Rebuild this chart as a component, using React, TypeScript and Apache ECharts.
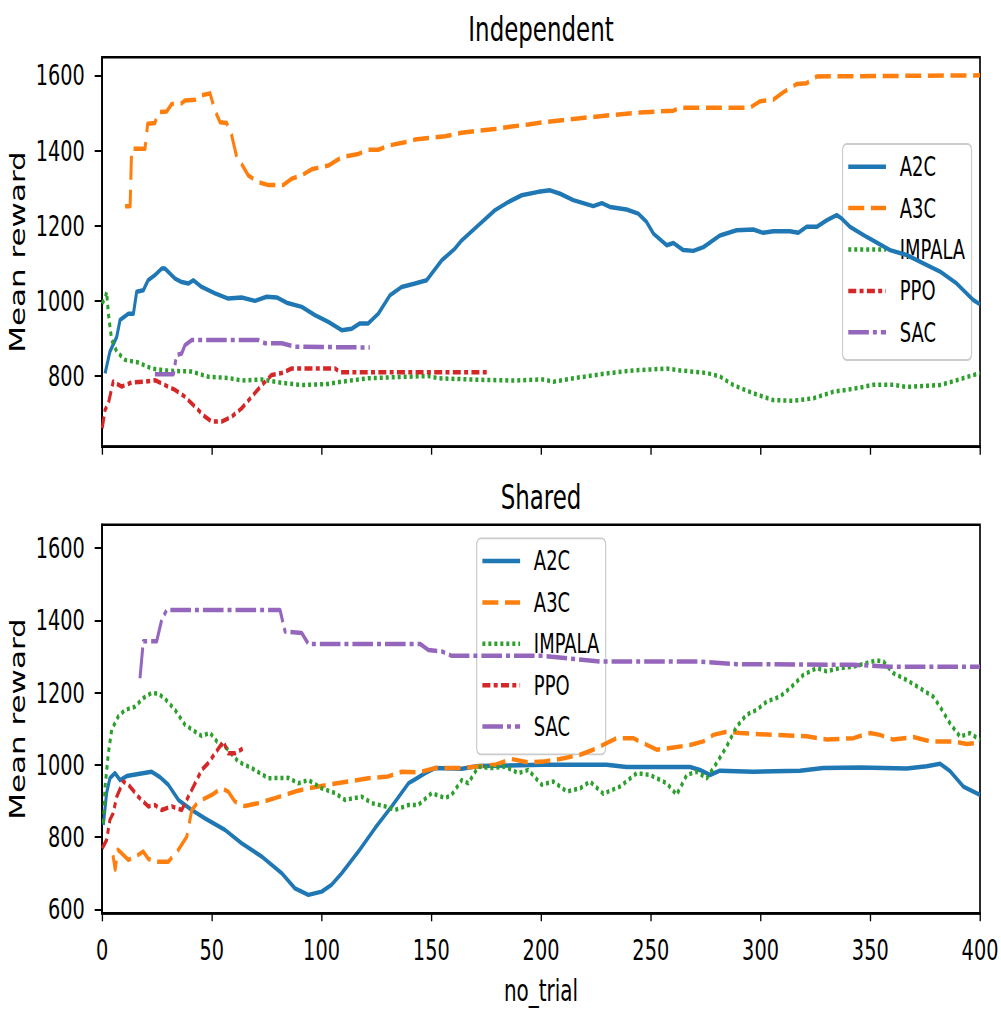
import React, { useEffect, useRef } from 'react';
import * as echarts from 'echarts';

// Horizontal squash of the whole figure (the reference is a horizontally compressed matplotlib figure)
const SX = 0.665;
const W = 1505;
const H = 1010;

const algorithms = ['A2C', 'A3C', 'IMPALA', 'PPO', 'SAC'];
const colors = ['#1f77b4', '#ff7f0e', '#2ca02c', '#d62728', '#9467bd'];
const yTicksTop = [800, 1000, 1200, 1400, 1600];
const yTicksBottom = [600, 800, 1000, 1200, 1400, 1600];

// ---- Independent ----
const indA2C = [[1.4,807],[3.6,865],[6.7,904],[8.2,949],[12,966],[14.3,966],[15.8,1024],[18.8,1028],[21,1055],[24,1068],[27.2,1086],[28.7,1086],[33.3,1059],[36.3,1050],[39.3,1046],[41.6,1055],[45.4,1037],[51.5,1020],[57.5,1006],[63.6,1009],[69.7,1000],[75,1011],[79.6,1009],[84.1,995],[91,984],[97,962],[103.1,944],[109.2,922],[113.8,926],[117.5,940],[121.3,940],[125.9,966],[131.2,1015],[136.5,1037],[142.6,1046],[147.9,1055],[154.8,1108],[160.8,1139],[163.9,1161],[171.4,1201],[179,1241],[185.1,1263],[191.2,1281],[198.8,1290],[204.1,1294],[208.7,1285],[214.7,1268],[223.8,1252],[227.7,1260],[231.4,1250],[239,1243],[244.3,1232],[248.1,1210],[251.2,1179],[257.3,1148],[260.3,1154],[264.8,1135],[269.4,1133],[274,1143],[281.5,1174],[289.1,1188],[296.7,1190],[301.2,1181],[305.8,1185],[313.4,1185],[317.2,1181],[321,1197],[325.6,1197],[330.1,1214],[334.7,1228],[337,1219],[340.8,1197],[348.4,1170],[359,1135],[366.6,1122],[374.2,1100],[381.8,1078],[389.4,1046],[397,1002],[400,991]];
const indA3C = [[10.5,1252],[12.8,1252],[13.5,1405],[19.6,1405],[20.8,1471],[24.1,1473],[25.6,1502],[29.5,1504],[31.8,1524],[36.3,1526],[37.8,1533],[42.4,1535],[44.6,1546],[49.2,1552],[51.5,1506],[53.8,1475],[56.8,1473],[59.1,1440],[61.4,1382],[63.6,1364],[66.6,1334],[71.2,1316],[75.8,1308],[82.6,1308],[86.4,1325],[91,1334],[95.5,1350],[103.1,1360],[109.2,1382],[116.8,1391],[121.3,1402],[125.9,1402],[130.4,1413],[138,1422],[142.6,1429],[148.7,1433],[156.3,1438],[163.9,1447],[171.4,1453],[179,1457],[186.6,1464],[194.2,1469],[201,1475],[214.7,1484],[229.9,1493],[245.1,1501],[260.3,1506],[263.3,1514],[295.2,1514],[299.8,1531],[305.8,1535],[310.4,1555],[316.5,1577],[321,1579],[325.6,1597],[400,1600]];
const indIMPALA = [[0,993],[1.4,1006],[2.1,1024],[2.9,966],[4.4,896],[6.7,865],[10.5,843],[16.5,836],[22.6,820],[30.2,814],[40.8,812],[48.4,798],[57.5,795],[63.6,788],[72.7,791],[81.9,782],[91,776],[103.1,779],[109.2,785],[121.3,794],[133.5,797],[148.7,800],[153.2,794],[171.4,790],[188.2,788],[201,791],[205.6,785],[214.7,794],[229.9,807],[242,815],[257.3,820],[263.3,815],[275.5,808],[281.5,799],[287.6,776],[296.7,754],[305.8,736],[315,734],[324.1,741],[333.2,758],[345.3,769],[351.4,777],[360.5,777],[366.6,771],[381.8,776],[389.4,789],[400,808]];
const indPPO = [[0.1,661],[1.4,710],[2.9,727],[5.1,785],[9,772],[13.5,783],[19.6,785],[24.1,789],[28.7,776],[33.3,763],[37.8,745],[42.4,718],[46.9,692],[50,679],[54.5,679],[59.1,692],[63.6,714],[68.2,745],[72.8,776],[77.3,803],[81.9,808],[86.4,820],[106.2,820],[108.4,810],[176.8,810]];
const indSAC = [[24.1,805],[32.5,805],[34,856],[36.3,860],[37.8,882],[40.9,896],[71.2,896],[74.3,887],[81.9,887],[87.9,878],[122,876]];

// ---- Shared ----
const shA2C = [[0.6,834],[2.1,922],[3.6,963],[5.9,977],[8.2,958],[11.3,969],[16.5,975],[22.6,981],[26.4,966],[30.2,945],[34.8,903],[40.9,875],[46.9,852],[56,820],[63.6,783],[72.8,746],[81.9,700],[87.9,658],[94,640],[100.1,649],[104.6,668],[109.2,700],[116.8,760],[124.4,825],[132,885],[139.6,949],[142.6,960],[147.2,977],[151.7,991],[163.9,989],[171.4,997],[201,1000],[229.9,1000],[239,994],[267.9,994],[272.4,986],[277,972],[281.5,984],[296.7,981],[318,984],[328.6,991],[345.3,993],[366.6,990],[375.7,996],[381.8,1003],[386.3,983],[392.4,940],[400,917]];
const shA3C = [[5,750],[6,710],[7.2,765],[9,755],[12,737],[15,745],[18.8,760],[21.1,740],[24.1,732],[30.2,732],[34.8,765],[38.6,801],[40.9,875],[43.9,898],[50,917],[54.5,935],[57.5,926],[60.6,898],[65.1,886],[71.2,894],[78.8,908],[87.9,926],[94,935],[103.1,945],[112.2,954],[121.3,963],[130.4,968],[136.5,981],[144.1,979],[151.7,991],[163.9,991],[173,997],[179,1000],[186.6,1016],[194.2,1007],[201,1009],[208.7,1016],[217.8,1028],[223.8,1042],[234.5,1074],[242,1074],[246.6,1060],[252.7,1042],[260.3,1048],[267.9,1055],[274,1065],[278.5,1083],[284.6,1092],[290.7,1088],[305.8,1083],[321,1079],[330.1,1070],[342.3,1074],[349.9,1088],[354.4,1083],[360.5,1070],[369.6,1077],[377.2,1065],[387.8,1065],[393.9,1058],[400,1062]];
const shIMPALA = [[0.6,838],[1.4,940],[2.9,1032],[4.4,1097],[7.4,1134],[10.5,1152],[15,1161],[18.8,1185],[22.6,1199],[25.7,1197],[28.7,1183],[33.3,1152],[37.8,1111],[42.4,1092],[45.4,1080],[49.2,1089],[52.3,1065],[56.8,1046],[62.1,1009],[68.2,991],[75.8,963],[84.9,964],[89.4,949],[94,958],[100.1,935],[106.2,922],[110.7,903],[118.3,912],[122.9,894],[129,885],[133.5,875],[139.6,889],[144.1,889],[150.2,922],[156.3,908],[159.3,917],[163.9,958],[166.9,949],[171.4,995],[177.5,991],[183.6,995],[189.7,977],[194.2,986],[200.3,945],[205.6,954],[211.7,926],[217.8,935],[222.3,954],[228.4,920],[236,940],[243.6,977],[249.7,972],[257.3,949],[261.8,917],[266.4,972],[270.9,981],[275.5,963],[280,1005],[284.6,1051],[289.1,1106],[293.7,1139],[298.2,1152],[302.8,1175],[308.8,1189],[313.4,1212],[319.5,1249],[325.6,1268],[330.1,1259],[336.2,1268],[342.3,1272],[348.4,1282],[352.9,1289],[356,1286],[360.5,1254],[366.6,1235],[372.7,1212],[378.7,1189],[381.8,1161],[386.3,1115],[390.9,1078],[395.4,1088],[400,1069]];
const shPPO = [[0.1,769],[2.1,792],[3.6,848],[5.1,866],[6.7,912],[9.7,954],[12,945],[16.5,912],[21.1,885],[24.1,889],[27.2,875],[31.8,885],[36.3,875],[38.6,903],[42.4,949],[45.4,986],[48.4,1005],[51.5,1032],[55.3,1065],[57.5,1032],[60.6,1032],[64.4,1046]];
const shSAC = [[17.3,1240],[18.8,1342],[24.9,1342],[27.2,1402],[29.5,1429],[81.1,1429],[83.4,1369],[91,1365],[94,1335],[144.9,1335],[148.7,1318],[154.8,1314],[159.3,1302],[201,1302],[226.9,1286],[272.4,1286],[287.6,1279],[342.3,1277],[359,1272],[400,1272]];

const independentData = [indA2C, indA3C, indIMPALA, indPPO, indSAC];
const sharedData = [shA2C, shA3C, shIMPALA, shPPO, shSAC];

const dashes: any[] = [null, [24, 10], [4.5, 4.5], [12, 5, 6, 5], [31, 6, 6, 6]];

const FONT = 'DejaVu Sans';
const LW = 4.5;

function legendGraphic(left: number, top: number) {
  const children: any[] = [
    {
      type: 'rect',
      shape: { x: left, y: top, width: 194, height: 216, r: 6 },
      style: { fill: 'rgba(255,255,255,0.8)', stroke: '#cccccc', lineWidth: 1.8 },
    },
  ];
  algorithms.forEach((name, k) => {
    const cy = top + 22.7 + k * 41.4;
    children.push({
      type: 'line',
      shape: { x1: left + 8.6, y1: cy, x2: left + 65.3, y2: cy },
      style: { stroke: colors[k], lineWidth: LW, lineDash: dashes[k] || undefined, lineCap: 'butt' },
    });
    children.push({
      type: 'text',
      x: left + 86,
      y: cy,
      style: { text: name, fill: '#000', fontSize: 27, fontFamily: FONT, align: 'left', verticalAlign: 'middle' },
    });
  });
  return { type: 'group', z: 100, children };
}

function buildOption() {
  const gridL = 153.4;
  const gridW = 1320.3;
  const grids = [
    { left: gridL, top: 57.3, width: gridW, height: 389.4 },
    { left: gridL, top: 524.7, width: gridW, height: 388.6 },
  ].map((g) => ({ ...g, show: true, borderColor: '#000', borderWidth: 2.5, backgroundColor: 'transparent' }));

  const axisLine = { show: true, lineStyle: { color: '#000', width: 2.5 } };
  const labelStyle = { color: '#000', fontSize: 29, fontFamily: FONT };

  const xAxes = [0, 1].map((i) => ({
    type: 'value',
    gridIndex: i,
    min: 0,
    max: 400,
    interval: 50,
    axisLine,
    axisTick: { show: true, length: 8, lineStyle: { color: '#000', width: 2 } },
    axisLabel: { show: i === 1, margin: 22, formatter: (v: number) => String(v), ...labelStyle },
    splitLine: { show: false },
    name: i === 1 ? 'no_trial' : '',
    nameLocation: 'middle',
    nameGap: 62,
    nameTextStyle: { color: '#000', fontSize: 30, fontFamily: FONT },
  }));

  const yAxes = [0, 1].map((i) => ({
    type: 'value',
    gridIndex: i,
    min: i === 0 ? 612 : 589,
    max: i === 0 ? 1648 : 1665,
    axisLine,
    axisTick: {
      show: true,
      length: 11,
      lineStyle: { color: '#000', width: 2 },
      customValues: i === 0 ? yTicksTop : yTicksBottom,
    },
    axisLabel: {
      margin: 26,
      formatter: (v: number) => String(v),
      ...labelStyle,
      customValues: i === 0 ? yTicksTop : yTicksBottom,
    },
    splitLine: { show: false },
    name: 'Mean reward',
    nameLocation: 'middle',
    nameRotate: 90,
    nameGap: 107,
    nameTextStyle: { color: '#000', fontSize: 31, fontFamily: FONT },
  }));

  const series: any[] = [];
  [independentData, sharedData].forEach((group, gi) => {
    group.forEach((data, k) => {
      series.push({
        type: 'line',
        name: algorithms[k],
        xAxisIndex: gi,
        yAxisIndex: gi,
        data,
        symbol: 'none',
        showSymbol: false,
        clip: true,
        lineStyle: { color: colors[k], width: LW, type: dashes[k] || 'solid', cap: 'butt', join: 'round' },
        itemStyle: { color: colors[k] },
        emphasis: { disabled: true },
      });
    });
  });

  return {
    animation: false,
    backgroundColor: '#fff',
    grid: grids,
    xAxis: xAxes,
    yAxis: yAxes,
    series,
    graphic: [
      {
        type: 'text',
        x: gridL + gridW / 2,
        y: 29.6,
        style: { text: 'Independent', fill: '#000', fontSize: 34.5, fontFamily: FONT, align: 'center', verticalAlign: 'middle' },
      },
      {
        type: 'text',
        x: gridL + gridW / 2,
        y: 497.6,
        style: { text: 'Shared', fill: '#000', fontSize: 34.5, fontFamily: FONT, align: 'center', verticalAlign: 'middle' },
      },
      legendGraphic(1267, 144),
      legendGraphic(716.8, 538.3),
    ],
  };
}

export default function App() {
  const ref = useRef<HTMLDivElement>(null);
  useEffect(() => {
    document.body.style.margin = '0';
    document.body.style.overflow = 'hidden';
    const chart = echarts.init(ref.current!, null, { renderer: 'svg', width: W, height: H });
    chart.setOption(buildOption() as any);
    return () => chart.dispose();
  }, []);
  return (
    <div
      style={{
        position: 'fixed',
        left: 0,
        top: 0,
        width: W,
        height: H,
        transform: `scaleX(${SX})`,
        transformOrigin: '0 0',
        background: '#fff',
      }}
    >
      <div ref={ref} style={{ width: W, height: H }} />
    </div>
  );
}
